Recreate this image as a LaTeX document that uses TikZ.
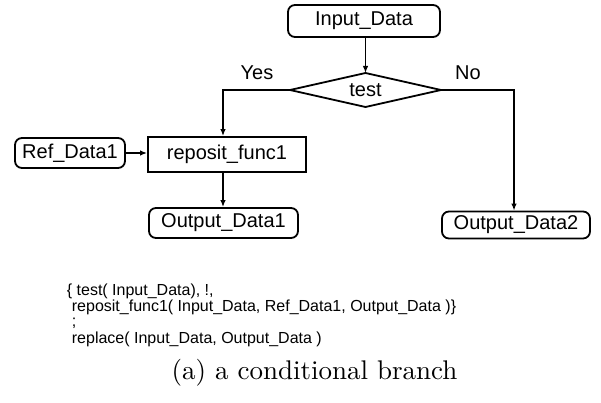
\documentclass[tikz,border=0pt]{standalone}
\usepackage{fontspec}
\setsansfont{Liberation Sans}
\newfontfamily\capfont{lmroman10-regular}[Extension=.otf]
\usetikzlibrary{arrows.meta}
\begin{document}
\begin{tikzpicture}[x=1pt,y=-1pt,
  line width=1.8pt,
  every node/.style={font=\sffamily\fontsize{20}{22}\selectfont},
  databox/.style={draw,rounded corners=7pt,inner sep=0pt},
  funcbox/.style={draw,inner sep=0pt},
  arr/.style={-{Latex[length=7pt,width=5.5pt]}},
  codeline/.style={anchor=west,inner sep=0pt,font=\sffamily\fontsize{16}{16}\selectfont}]
\useasboundingbox (0,0) rectangle (601,403);
% data and function nodes
\node[databox,minimum width=152pt,minimum height=32pt] (in) at (364,21) {Input\_Data};
% decision diamond
\coordinate (tN) at (365.5,73);
\coordinate (tW) at (290,90);
\coordinate (tE) at (441,90);
\coordinate (tS) at (365.5,107);
\draw (tN) -- (tE) -- (tS) -- (tW) -- cycle;
\node (test) at (365.5,90) {test};
\node[funcbox,minimum width=158pt,minimum height=35pt] (rep) at (227,154.5) {reposit\_func1};
\node[databox,minimum width=110pt,minimum height=30pt] (ref) at (70,153) {Ref\_Data1};
\node[databox,minimum width=149pt,minimum height=30pt] (out1) at (223.5,223) {Output\_Data1};
\node[databox,minimum width=148pt,minimum height=27pt] (out2) at (516,225) {Output\_Data2};
% branch labels
\node (yes) at (257,73) {Yes};
\node (no) at (468,73) {No};
% connectors
\coordinate (yc) at (223,90);
\coordinate (nc) at (514,90);
\draw[arr] (in.south -| tN) -- (tN);
\draw[arr] (tW) -- (yc) -- (yc |- rep.north);
\draw[arr] (tE) -- (nc) -- (nc |- out2.north);
\draw[arr] (ref.east) -- (rep.west |- ref.east);
\draw[arr] (yc |- rep.south) -- (yc |- out1.north);
% rule text
\node[codeline] (c1) at (66,291) {\{ test( Input\_Data), !,};
\node[codeline] (c2) at (71,307) {reposit\_func1( Input\_Data, Ref\_Data1, Output\_Data )\}};
\node[codeline] (c3) at (71,323) {;};
\node[codeline] (c4) at (71,339) {replace( Input\_Data, Output\_Data )};
% caption
\node[font=\capfont\fontsize{27}{30}\selectfont] (cap) at (314.5,373) {(a) a conditional branch};
\end{tikzpicture}
\end{document}
